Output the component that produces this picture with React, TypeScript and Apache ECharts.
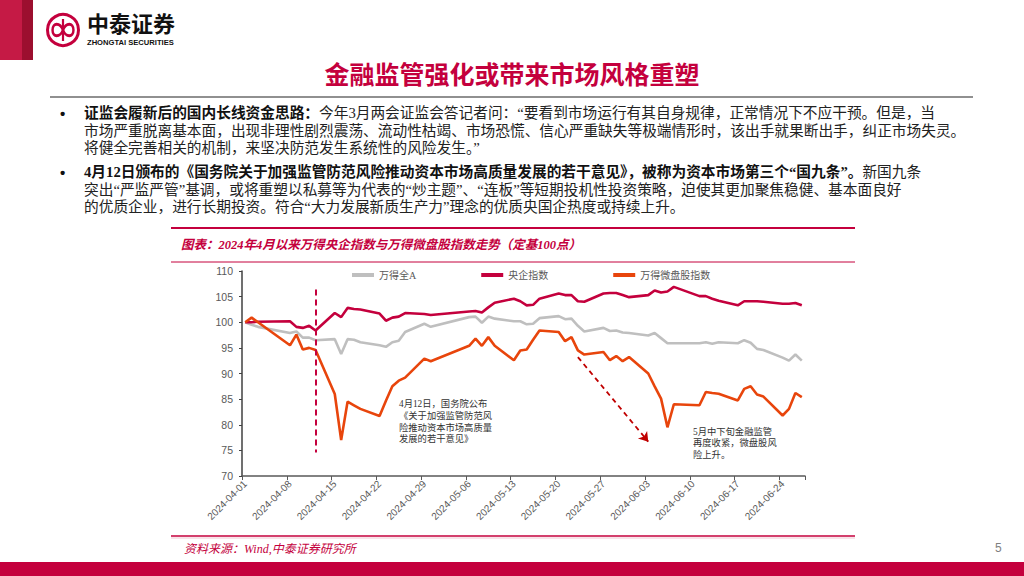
import React, { useEffect, useRef } from "react";
import * as echarts from "echarts";

// ---------------- data ----------------
const SERIES_NAMES = ["万得全A", "央企指数", "万得微盘股指数"];

const TRADING_DAYS = [
  "2024-04-01", "2024-04-02", "2024-04-03", "2024-04-08", "2024-04-09", "2024-04-10", "2024-04-11", "2024-04-12",
  "2024-04-15", "2024-04-16", "2024-04-17", "2024-04-18", "2024-04-19", "2024-04-22", "2024-04-23", "2024-04-24",
  "2024-04-25", "2024-04-26", "2024-04-29", "2024-04-30",
  "2024-05-06", "2024-05-07", "2024-05-08", "2024-05-09", "2024-05-10", "2024-05-13", "2024-05-14", "2024-05-15",
  "2024-05-16", "2024-05-17", "2024-05-20", "2024-05-21", "2024-05-22", "2024-05-23", "2024-05-24", "2024-05-27",
  "2024-05-28", "2024-05-29", "2024-05-30", "2024-05-31",
  "2024-06-03", "2024-06-04", "2024-06-05", "2024-06-06", "2024-06-07", "2024-06-11", "2024-06-12", "2024-06-13",
  "2024-06-14", "2024-06-17", "2024-06-18", "2024-06-19", "2024-06-20", "2024-06-21", "2024-06-24", "2024-06-25",
  "2024-06-26", "2024-06-27",
];

const WIND_ALL_A = [
  100, 99.5, 99.1, 97.9, 98.2, 97.0, 97.0, 96.5, 96.7, 93.8, 96.7, 96.6, 96.1, 95.5, 95.2, 96.1, 96.4, 98.1, 99.7, 99.1,
  101.0, 101.1, 99.9, 101.1, 100.7, 100.2, 100.2, 99.6, 99.7, 100.8, 101.2, 100.6, 100.7, 99.3, 98.2, 98.9, 98.3, 98.4, 98.0, 97.9,
  97.4, 97.9, 96.9, 95.9, 95.9, 95.9, 96.1, 95.8, 96.1, 95.9, 96.5, 96.0, 94.8, 94.6, 93.1, 92.5, 93.7, 92.5,
];

const SOE_INDEX = [
  100, 100.0, 100.1, 100.2, 99.1, 98.9, 99.3, 98.4, 101.8, 101.0, 102.8, 102.6, 102.5, 101.7, 100.3, 100.9, 101.1, 101.8, 101.6, 101.4,
  102.1, 102.2, 101.9, 102.9, 103.8, 104.6, 104.1, 103.3, 103.4, 104.6, 105.6, 105.3, 105.3, 104.1, 104.0, 105.6, 105.7, 105.7, 105.3, 104.9,
  105.3, 106.2, 105.8, 106.0, 106.9, 105.1, 105.1, 104.6, 104.2, 103.3, 104.1, 104.1, 104.1, 104.0, 103.6, 103.6, 103.75, 103.3,
];

const MICRO_CAP = [
  100, 100.9, 100.0, 95.5, 97.6, 94.7, 95.0, 94.6, 86.0, 77.0, 84.5, 83.8, 83.1, 81.7, 84.7, 87.5, 88.6, 89.2, 92.9, 92.4,
  95.4, 96.8, 95.4, 97.1, 95.4, 92.6, 94.5, 94.7, 96.6, 98.4, 98.1, 96.3, 97.1, 94.5, 93.7, 94.2, 92.6, 93.4, 92.4, 93.2,
  90.0, 87.5, 85.1, 79.5, 84.0, 83.8, 86.4, 86.2, 86.05, 84.75, 87.0, 87.5, 85.9, 85.5, 81.8, 83.1, 86.2, 85.4,
];

const FIRST_DAY = "2024-04-01";
const LAST_DAY = "2024-06-27";
const Y_MIN = 70;
const Y_MAX = 110;
const Y_STEP = 5;

const POLICY_LINE = { date: "2024-04-12", from: 106.4, to: 74.6 };
const RISK_ARROW = { fromDate: "2024-05-23", fromValue: 93.2, toDate: "2024-06-03", toValue: 76.7 };

const ANNOTATION_APR = ["4月12日，国务院公布", "《关于加强监管防范风", "险推动资本市场高质量", "发展的若干意见》"];
const ANNOTATION_MAY = ["5月中下旬金融监管", "再度收紧，微盘股风", "险上升。"];

const MAIN_TITLE = "金融监管强化或带来市场风格重塑";
const CHART_TITLE = "图表：2024年4月以来万得央企指数与万得微盘股指数走势（定基100点）";
const SOURCE_TEXT = "资料来源：Wind,中泰证券研究所";
const PAGE_NO = "5";

const BULLET_LINES = [
  "{b|证监会履新后的国内长线资金思路：}{n|今年3月两会证监会答记者问：“要看到市场运行有其自身规律，正常情况下不应干预。但是，当}",
  "{n|市场严重脱离基本面，出现非理性剧烈震荡、流动性枯竭、市场恐慌、信心严重缺失等极端情形时，该出手就果断出手，纠正市场失灵。}",
  "{n|将健全完善相关的机制，来坚决防范发生系统性的风险发生。”}",
  "{b|4月12日颁布的《国务院关于加强监管防范风险推动资本市场高质量发展的若干意见》，被称为资本市场第三个“国九条”。}{n|新国九条}",
  "{n|突出“严监严管”基调，或将重塑以私募等为代表的“炒主题”、“连板”等短期投机性投资策略，迫使其更加聚焦稳健、基本面良好}",
  "{n|的优质企业，进行长期投资。符合“大力发展新质生产力”理念的优质央国企热度或持续上升。}",
];

// ---------------- helpers ----------------
function buildCalendar(start: string, end: string): string[] {
  const out: string[] = [];
  const d = new Date(start + "T00:00:00Z");
  const e = new Date(end + "T00:00:00Z");
  while (d.getTime() <= e.getTime()) {
    out.push(d.toISOString().slice(0, 10));
    d.setUTCDate(d.getUTCDate() + 1);
  }
  return out;
}

function alignToCalendar(calendar: string[], values: number[]) {
  return calendar.map((day) => {
    const i = TRADING_DAYS.indexOf(day);
    return i >= 0 ? values[i] : null;
  });
}

const CRIMSON = "#C4003D";
const CJK = '"Noto Sans CJK SC", "Noto Sans", sans-serif';
const SONG = '"Liberation Serif", "Noto Sans CJK SC", serif';
const HEI = '"Liberation Sans", "Noto Sans CJK SC", sans-serif';

echarts.graphic.registerShape(
  "ztlogo",
  echarts.graphic.extendPath(
    "M0 0 C-3 -7 -11 -7 -11 0 C-11 7 -3 7 0 0 C3 -7 11 -7 11 0 C11 7 3 7 0 0 Z",
    {}
  )
);

export default function App() {
  const ref = useRef<HTMLDivElement>(null);

  useEffect(() => {
    if (!ref.current) return;
    const chart = echarts.init(ref.current, undefined, { renderer: "svg" });
    const calendar = buildCalendar(FIRST_DAY, LAST_DAY);
    const colors = ["#BFBFBF", CRIMSON, "#E8450C"];
    const values = [WIND_ALL_A, SOE_INDEX, MICRO_CAP];

    const bulletY = [113, 130.5, 148, 172, 189.5, 207];
    const mid = { textAlign: "left", textVerticalAlign: "middle", align: "left", verticalAlign: "middle" };

    const graphics: any[] = [
      // left brand bars
      { type: "rect", shape: { x: 0, y: 0, width: 22, height: 60 }, style: { fill: "#C51A45" } },
      { type: "rect", shape: { x: 22, y: 0, width: 11, height: 60 }, style: { fill: "#9C0F2F" } },
      // logo
      { type: "circle", shape: { cx: 63, cy: 30, r: 15.5 }, style: { fill: "#fff", stroke: CRIMSON, lineWidth: 3 } },
      { type: "ztlogo", x: 63, y: 30, scaleX: 0.95, scaleY: 1.1, style: { fill: "none", stroke: CRIMSON, lineWidth: 2.6 } },
      { type: "line", shape: { x1: 63, y1: 19, x2: 63, y2: 41 }, style: { stroke: CRIMSON, lineWidth: 2.2 } },
      {
        type: "text", x: 87, y: 24.5,
        style: { text: "中泰证券", fill: "#111", font: `bold 22px ${HEI}`, ...mid },
      },
      {
        type: "text", x: 87, y: 42.5,
        style: { text: "ZHONGTAI SECURITIES", fill: "#111", font: 'bold 7.6px "Liberation Sans", Arial, sans-serif', ...mid },
      },
      // main title
      {
        type: "text", x: 512, y: 75,
        style: { text: MAIN_TITLE, fill: CRIMSON, font: `bold 25px ${HEI}`, textAlign: "center", textVerticalAlign: "middle", align: "center", verticalAlign: "middle" },
      },
      { type: "line", shape: { x1: 50, y1: 97, x2: 973, y2: 97 }, style: { stroke: "#222", lineWidth: 1.2 } },
      // bullets
      ...[113, 172].map((y) => ({
        type: "text", x: 60, y,
        style: { text: "•", fill: "#111", font: 'bold 15px "Liberation Sans", Arial, sans-serif', ...mid },
      })),
      ...BULLET_LINES.map((t, i) => ({
        type: "text", x: 84, y: bulletY[i],
        style: {
          text: t,
          ...mid,
          rich: {
            b: { fontSize: 14.7, fontFamily: SONG, fontWeight: "bold", fill: "#111", color: "#111", lineHeight: 17 },
            n: { fontSize: 14.7, fontFamily: SONG, fontWeight: "normal", fill: "#222", color: "#222", lineHeight: 17 },
          },
        },
      })),
      // chart title band
      { type: "line", shape: { x1: 171, y1: 228, x2: 855, y2: 228 }, style: { stroke: CRIMSON, lineWidth: 1.8 } },
      { type: "line", shape: { x1: 171, y1: 262, x2: 855, y2: 262 }, style: { stroke: CRIMSON, lineWidth: 1 } },
      {
        type: "text", x: 181, y: 245,
        style: { text: CHART_TITLE, fill: CRIMSON, font: `italic bold 12.5px ${SONG}`, ...mid },
      },
      // annotations (one text per line)
      ...ANNOTATION_APR.map((t, i) => ({
        type: "text", x: 399, y: 404.3 + i * 11.7,
        style: { text: t, fill: "#333", font: `9.3px ${SONG}`, ...mid },
      })),
      ...ANNOTATION_MAY.map((t, i) => ({
        type: "text", x: 693, y: 431.5 + i * 11.7,
        style: { text: t, fill: "#333", font: `9.3px ${SONG}`, ...mid },
      })),
      // footer
      { type: "line", shape: { x1: 171, y1: 536, x2: 855, y2: 536 }, style: { stroke: CRIMSON, lineWidth: 1.5 } },
      { type: "line", shape: { x1: 171, y1: 538, x2: 855, y2: 538 }, style: { stroke: "#F2C6D2", lineWidth: 1 } },
      {
        type: "text", x: 184, y: 549,
        style: { text: SOURCE_TEXT, fill: CRIMSON, font: `italic 12px ${SONG}`, ...mid },
      },
      {
        type: "text", x: 995, y: 548,
        style: { text: PAGE_NO, fill: "#7F7F7F", font: '12px "Liberation Sans", Arial, sans-serif', ...mid },
      },
      { type: "rect", shape: { x: 0, y: 562, width: 1024, height: 14 }, style: { fill: "#C4003D" } },
    ];

    const option: any = {
      animation: false,
      backgroundColor: "#ffffff",
      textStyle: { fontFamily: CJK },
      graphic: { elements: graphics },
      legend: {
        data: SERIES_NAMES,
        left: 347,
        top: 265,
        itemWidth: 22,
        itemHeight: 4,
        itemGap: 65,
        icon: "rect",
        textStyle: { fontSize: 10, color: "#595959", fontFamily: SONG },
      },
      grid: { left: 242, top: 271, width: 563, height: 205, containLabel: false },
      xAxis: {
        type: "category",
        data: calendar,
        boundaryGap: true,
        axisLine: { show: true, lineStyle: { color: "#595959", width: 1.5 } },
        axisTick: { show: true, interval: 6, length: 4, lineStyle: { color: "#595959" } },
        axisLabel: {
          interval: 6,
          rotate: 45,
          fontSize: 10,
          color: "#595959",
          margin: 6,
          fontFamily: '"Liberation Sans", Arial, sans-serif',
        },
        splitLine: { show: false },
      },
      yAxis: {
        type: "value",
        min: Y_MIN,
        max: Y_MAX,
        interval: Y_STEP,
        axisLine: { show: true, lineStyle: { color: "#404040", width: 1.5 } },
        axisTick: { show: true, length: 3, lineStyle: { color: "#404040" } },
        axisLabel: { fontSize: 10.5, color: "#595959", margin: 9, fontFamily: '"Liberation Sans", Arial, sans-serif' },
        splitLine: { show: false },
      },
      series: SERIES_NAMES.map((name, i) => {
        const s: any = {
          name,
          type: "line",
          data: alignToCalendar(calendar, values[i]),
          connectNulls: true,
          showSymbol: false,
          symbol: "none",
          lineStyle: { color: colors[i], width: 2.6 },
          itemStyle: { color: colors[i] },
          z: 2 + i,
        };
        if (i === 2) {
          s.markLine = {
            silent: true,
            animation: false,
            label: { show: false },
            symbol: ["none", "none"],
            data: [
              [
                { coord: [POLICY_LINE.date, POLICY_LINE.from], symbol: "none", lineStyle: { color: CRIMSON, type: [6, 4], width: 2 } },
                { coord: [POLICY_LINE.date, POLICY_LINE.to], symbol: "none" },
              ],
              [
                { coord: [RISK_ARROW.fromDate, RISK_ARROW.fromValue], symbol: "none", lineStyle: { color: "#C00000", type: [5, 4], width: 1.8 } },
                { coord: [RISK_ARROW.toDate, RISK_ARROW.toValue], symbol: "arrow", symbolSize: 9 },
              ],
            ],
          };
        }
        return s;
      }),
    };

    chart.setOption(option);
    return () => chart.dispose();
  }, []);

  return (
    <div
      ref={ref}
      style={{ position: "absolute", left: 0, top: 0, width: 1024, height: 576, background: "#fff" }}
    />
  );
}
